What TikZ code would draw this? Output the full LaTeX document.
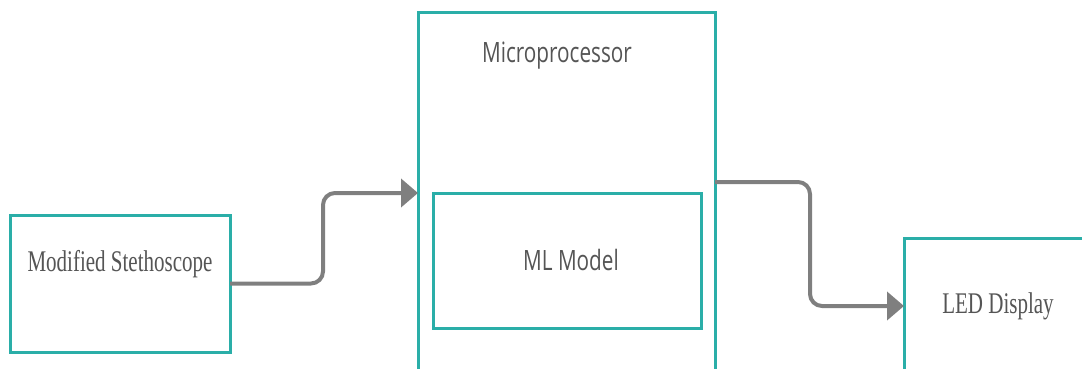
\documentclass[tikz,border=0pt]{standalone}
\usepackage{fontspec}
\setmainfont{Liberation Serif}
\newfontfamily\osans{Open Sans}
\usetikzlibrary{arrows.meta,calc}
\definecolor{tealb}{HTML}{2AAEA8}
\definecolor{arrg}{HTML}{7F7F7F}
\definecolor{txtg}{HTML}{555555}
\newcommand{\sqz}[1]{\scalebox{0.74}[1]{#1}}
\newcommand{\sqs}[1]{\scalebox{0.70}[1]{#1}}
\begin{document}
\begin{tikzpicture}[x=1pt,y=-1pt,
  box/.style={draw=tealb,line width=3pt,fill=white,inner sep=0pt,outer sep=0pt,anchor=north west},
  conn/.style={draw=arrg,line width=4pt,rounded corners=12pt,-{Triangle[length=17pt,width=28pt]}},
  lblserif/.style={text=txtg,inner sep=0pt,anchor=base,font=\fontsize{30}{36}\selectfont},
  lblsans/.style={text=txtg,inner sep=0pt,anchor=base,font=\osans\fontsize{28}{34}\selectfont}]
\useasboundingbox (0,0) rectangle (1082,369);
\begin{scope}
\clip (0,0) rectangle (1082,369);
\node[box,minimum width=220pt,minimum height=137pt] (steth) at (10,215) {};
\node[box,minimum width=297pt,minimum height=360pt] (micro) at (418,13) {};
\node[box,minimum width=268pt,minimum height=135pt] (ml) at (433,193) {};
\node[box,minimum width=200pt,minimum height=136pt] (led) at (904,238) {};
\node[lblserif] (tsteth) at (120,271) {\sqs{Modified Stethoscope}};
\node[lblsans] (tmicro) at (557,63) {\sqz{Microprocessor}};
\node[lblsans] (tml) at (571,270) {\sqz{ML Model}};
\node[lblserif] (tled) at (998,313) {\sqs{LED Display}};
\coordinate (c1) at (323,0);
\coordinate (c2) at (810,0);
\coordinate (o2) at ($(micro.east)+(0,-11)$);
\draw[conn] (steth.east) -- (steth.east -| c1) -- (c1 |- micro.west) -- (micro.west);
\draw[conn] (o2) -- (o2 -| c2) -- (c2 |- led.west) -- (led.west);
\end{scope}
\end{tikzpicture}
\end{document}
